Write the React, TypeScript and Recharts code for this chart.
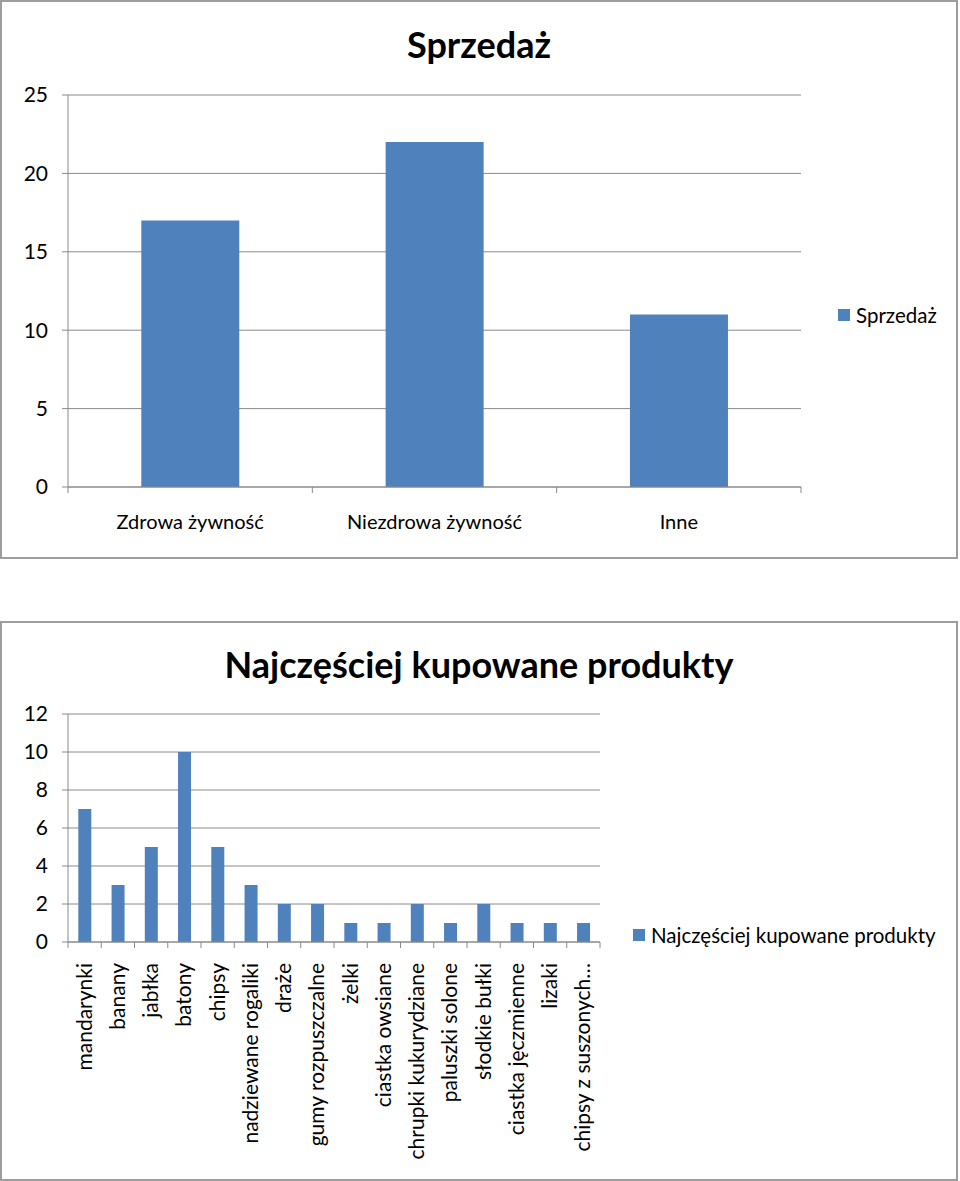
import React from "react";
import { BarChart, Bar, XAxis, YAxis, CartesianGrid } from "recharts";

// Sprzedaż
const salesCategories = ["Zdrowa żywność", "Niezdrowa żywność", "Inne"];
const salesValues = [17, 22, 11];
const salesTicks = [0, 5, 10, 15, 20, 25];

// Najczęściej kupowane produkty
const productCategories = [
  "mandarynki",
  "banany",
  "jabłka",
  "batony",
  "chipsy",
  "nadziewane rogaliki",
  "draże",
  "gumy rozpuszczalne",
  "żelki",
  "ciastka owsiane",
  "chrupki kukurydziane",
  "paluszki solone",
  "słodkie bułki",
  "ciastka jęczmienne",
  "lizaki",
  "chipsy z suszonych…",
];
const productValues = [7, 3, 5, 10, 5, 3, 2, 2, 1, 1, 2, 1, 2, 1, 1, 1];
const productTicks = [0, 2, 4, 6, 8, 10, 12];

const salesData = salesCategories.map((name, i) => ({ name, value: salesValues[i] }));
const productData = productCategories.map((name, i) => ({ name, value: productValues[i] }));

const FONT = "Lato, 'Open Sans', sans-serif";
const BAR = "#4F81BD";
const GRID = "#8a8a8a";

// plot widths (layout only) used to place the boundary tick marks
const SALES_PLOT_W = 801 - 68;
const PRODUCT_PLOT_W = 600 - 68;

const boundaryTicks = (x: number, y: number, band: number, last: boolean) => (
  <>
    <line x1={x - band / 2} x2={x - band / 2} y1={y} y2={y + 6} stroke={GRID} />
    {last && <line x1={x + band / 2} x2={x + band / 2} y1={y} y2={y + 6} stroke={GRID} />}
  </>
);

const SalesTick = (props: any) => {
  const { x, y, payload, index } = props;
  const band = SALES_PLOT_W / salesCategories.length;
  return (
    <g>
      {boundaryTicks(x, y, band, index === salesCategories.length - 1)}
      <text x={x} y={y + 42} textAnchor="middle" fontSize={20} fontFamily={FONT} fill="#000">
        {payload.value}
      </text>
    </g>
  );
};

const ProductTick = (props: any) => {
  const { x, y, payload, index } = props;
  const band = PRODUCT_PLOT_W / productCategories.length;
  const ty = y + 21;
  return (
    <g>
      {boundaryTicks(x, y, band, index === productCategories.length - 1)}
      <text
        x={x}
        y={ty}
        dy={7}
        transform={`rotate(-90, ${x}, ${ty})`}
        textAnchor="end"
        fontSize={21}
        fontFamily={FONT}
        fill="#000"
      >
        {payload.value}
      </text>
    </g>
  );
};

const boxStyle = (top: number, height: number): React.CSSProperties => ({
  position: "absolute",
  left: 0,
  top,
  width: 958,
  height,
  border: "2px solid #9d9d9d",
  boxSizing: "border-box",
  background: "#fff",
});

const LegendItem = ({ left, top, label }: { left: number; top: number; label: string }) => (
  <div
    style={{
      position: "absolute",
      left,
      top,
      display: "flex",
      alignItems: "center",
      fontFamily: FONT,
      fontSize: 20.5,
      color: "#000",
      lineHeight: "24px",
      whiteSpace: "nowrap",
    }}
  >
    <span style={{ width: 12, height: 12, background: BAR, marginRight: 6, display: "inline-block" }} />
    {label}
  </div>
);

const Title = ({ top, text }: { top: number; text: string }) => (
  <div
    style={{
      position: "absolute",
      left: 0,
      top,
      width: 958,
      textAlign: "center",
      fontFamily: FONT,
      fontWeight: 700,
      fontSize: 36,
      lineHeight: "40px",
      color: "#000",
    }}
  >
    {text}
  </div>
);

export default function App() {
  return (
    <div style={{ position: "absolute", left: 0, top: 0, width: 960, height: 1181, background: "#fff" }}>
      <div style={boxStyle(0, 559)} />
      <div style={boxStyle(621, 560)} />

      <Title top={24} text="Sprzedaż" />
      <Title top={644} text="Najczęściej kupowane produkty" />

      <div style={{ position: "absolute", left: 0, top: 0 }}>
        <BarChart
          width={960}
          height={560}
          data={salesData}
          margin={{ top: 95, right: 159, left: 8, bottom: 33 }}
          barCategoryGap="30%"
        >
          <CartesianGrid vertical={false} stroke={GRID} />
          <XAxis
            dataKey="name"
            height={40}
            interval={0}
            tickLine={false}
            tickSize={0}
            tickMargin={0}
            stroke={GRID}
            tick={<SalesTick />}
          />
          <YAxis
            width={60}
            domain={[0, 25]}
            ticks={salesTicks}
            interval={0}
            stroke={GRID}
            tickSize={6}
            tickMargin={14}
            tick={{ fill: "#000", fontSize: 21, fontFamily: FONT }}
          />
          <Bar dataKey="value" name="Sprzedaż" fill={BAR} isAnimationActive={false} />
        </BarChart>
      </div>
      <LegendItem left={838} top={303} label="Sprzedaż" />

      <div style={{ position: "absolute", left: 0, top: 620 }}>
        <BarChart
          width={960}
          height={561}
          data={productData}
          margin={{ top: 94, right: 360, left: 8, bottom: 49 }}
          barCategoryGap="31%"
        >
          <CartesianGrid vertical={false} stroke={GRID} />
          <XAxis
            dataKey="name"
            height={190}
            interval={0}
            tickLine={false}
            tickSize={0}
            tickMargin={0}
            stroke={GRID}
            tick={<ProductTick />}
          />
          <YAxis
            width={60}
            domain={[0, 12]}
            ticks={productTicks}
            interval={0}
            stroke={GRID}
            tickSize={6}
            tickMargin={14}
            tick={{ fill: "#000", fontSize: 21, fontFamily: FONT }}
          />
          <Bar dataKey="value" name="Najczęściej kupowane produkty" fill={BAR} isAnimationActive={false} />
        </BarChart>
      </div>
      <LegendItem left={633} top={923} label="Najczęściej kupowane produkty" />
    </div>
  );
}
